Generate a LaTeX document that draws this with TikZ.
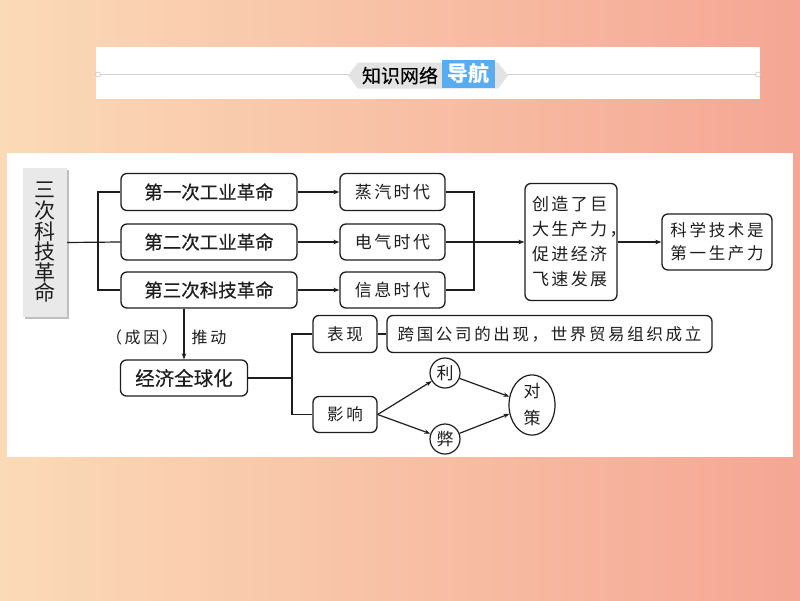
\documentclass[tikz,border=0pt]{standalone}
\usepackage{fontspec}
\newfontfamily\cjk{Noto Sans CJK SC}
\newfontfamily\cjkb[FakeBold=0.35]{Noto Sans CJK SC}
\newfontfamily\cjks[LetterSpace=16]{Noto Sans CJK SC}
\newfontfamily\cjkw[LetterSpace=14]{Noto Sans CJK SC}
\usetikzlibrary{arrows.meta,shapes.geometric}
\definecolor{bgL}{RGB}{251,218,183}
\definecolor{bgR}{RGB}{245,166,148}
\definecolor{navblue}{RGB}{88,172,242}
\definecolor{ink}{RGB}{30,30,30}
\begin{document}
\begin{tikzpicture}[x=1pt,y=-1pt,
  box/.style={draw=ink, line width=1.3pt, rounded corners=6pt, inner sep=0pt, align=center, text=ink},
  hei/.style={font=\cjkb\fontsize{18.5}{22}\selectfont},
  song/.style={font=\cjkw\fontsize{17}{25}\selectfont},
  songs/.style={font=\cjks\fontsize{16.5}{23}\selectfont},
  conn/.style={draw=ink, line width=1.2pt},
  arr/.style={conn, -{Stealth[length=6pt,width=4.5pt]}},
  rnd/.style={draw=ink, line width=1.2pt, inner sep=0pt, text=ink, font=\cjk\fontsize{17}{27}\selectfont, align=center}
]
\useasboundingbox (0,0) rectangle (800,600);
% background
\shade[left color=bgL, right color=bgR] (0,0) rectangle (800,600);
% top banner
\fill[white] (96,47) rectangle (760,99);
\draw[gray!35, line width=1pt] (99,74.5) -- (757,74.5);
\draw[gray!45, fill=white, line width=0.6pt] (98,74.5) circle (2.5);
\draw[gray!45, fill=white, line width=0.6pt] (758,74.5) circle (2.5);
\fill[gray!22] (348,75.5) -- (358,62.5) -- (498,62.5) -- (508,75.5) -- (498,88.5) -- (358,88.5) -- cycle;
\fill[navblue] (442,60) rectangle (495,88);
\node[font=\cjkb\fontsize{19}{19}\selectfont, text=black] (zs) at (400,75.5) {知识网络};
\node[font=\cjk\bfseries\fontsize{21}{21}\selectfont, text=white] (dh) at (468.5,74) {导航};
% main panel
\fill[white] (7,153) rectangle (793,457);
% left grey box
\fill[gray!50] (24.5,169.5) rectangle (68.5,319);
\fill[gray!17] (23,168) rectangle (67,317);
\node[font=\cjk\fontsize{21}{20.6}\selectfont, align=center, text=ink, minimum width=44pt, minimum height=149pt, inner sep=0pt] (g) at (45,242.5) {三\\次\\科\\技\\革\\命};
% revolutions
\node[box, hei, minimum width=176pt, minimum height=37pt] (b1) at (209,192) {第一次工业革命};
\node[box, hei, minimum width=176pt, minimum height=36pt] (b2) at (209,242) {第二次工业革命};
\node[box, hei, minimum width=176pt, minimum height=36pt] (b3) at (209,290) {第三次科技革命};
% eras
\node[box, song, minimum width=105pt, minimum height=37pt] (e1) at (392.5,192) {蒸汽时代};
\node[box, song, minimum width=105pt, minimum height=36pt] (e2) at (392.5,242) {电气时代};
\node[box, song, minimum width=105pt, minimum height=36pt] (e3) at (392.5,290) {信息时代};
% result boxes
\node[box, song, align=left, text width=78pt, inner xsep=7pt, minimum height=117pt] (cz) at (571,242) {创造了巨\\大生产力，\\促进经济\\飞速发展};
\node[box, songs, minimum width=110pt, minimum height=56pt] (kx) at (717,242) {科学技术是\\第一生产力};
% globalization
\node[box, font=\cjkb\fontsize{19.5}{22}\selectfont, minimum width=127pt, minimum height=36pt] (jj) at (184,378) {经济全球化};
\node[font=\cjks\fontsize{16}{18}\selectfont, text=ink] (cy) at (142,337) {（成因）};
\node[font=\cjks\fontsize{16}{18}\selectfont, text=ink] (td) at (209,337) {推动};
\node[box, songs, minimum width=64pt, minimum height=37pt] (bx) at (345,334) {表现};
\node[box, songs, minimum width=64pt, minimum height=36pt] (yx) at (345,414.5) {影响};
\node[box, font=\cjks\fontsize{16.5}{20}\selectfont, minimum width=325pt, minimum height=37pt] (kg) at (549.5,334) {跨国公司的出现，世界贸易组织成立};
\node[rnd, circle, minimum size=30pt] (li) at (445,373) {利};
\node[rnd, circle, minimum size=30pt] (bi) at (445,439) {弊};
\node[rnd, ellipse, minimum width=46pt, minimum height=56pt] (dc) at (532,405) {对\\策};
% connectors
\coordinate (lj) at (98,242);
\draw[conn] (g.east) -- (b2.west);
\draw[conn] (b1.west) -| (lj) |- (b3.west);
\draw[arr] (b1.east) -- (e1.west);
\draw[arr] (b2.east) -- (e2.west);
\draw[arr] (b3.east) -- (e3.west);
\coordinate (rj) at (474,242);
\draw[conn] (e1.east) -| (rj) |- (e3.east);
\draw[arr] (e2.east) -- (cz.west);
\draw[arr] (cz.east) -- (kx.west);
\draw[arr] (jj.north |- b3.south) -- (jj.north);
\coordinate (mj) at (292,378);
\draw[conn] (jj.east) -- (mj);
\draw[conn] (bx.west) -| (mj) |- (yx.west);
\draw[conn] (bx.east) -- (kg.west);
\draw[arr] (yx.east) -- (li);
\draw[arr] (yx.east) -- (bi);
\draw[arr] (li) -- (dc);
\draw[arr] (bi) -- (dc);
\end{tikzpicture}
\end{document}
